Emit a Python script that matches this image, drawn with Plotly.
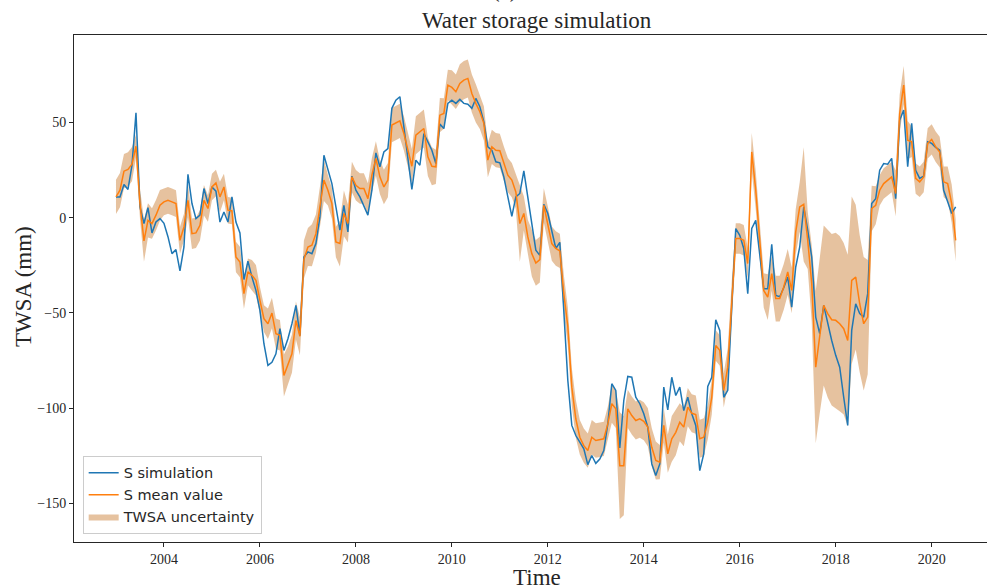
import numpy as np
import plotly.graph_objects as go

# Monthly series, January 2003 to July 2020
start_year = 2003
months_per_year = 12

s_simulation = [
    10.9, 10.9, 17.4, 14.8, 27.5, 55.0, 5.6, -3.1, 5.3, -8.0, -2.3, -0.5,
    -3.0, -10.0, -18.9, -16.8, -28.0, -15.4, 22.8, 7.4, -0.5, 1.3, 15.3, 7.4,
    16.1, 13.9, -2.3, 3.0, -2.3, 10.9, -2.3, -8.0, -32.5, -22.8, -31.2, -38.2,
    -48.7, -66.2, -77.6, -75.9, -71.5, -58.3, -69.7, -63.6, -55.7, -46.1, -61.8, -20.7,
    -18.0, -18.9, -13.6, 0.4, 32.8, 25.8, 17.9, 5.6, -6.6, 6.5, -7.5, 21.8,
    14.4, 10.9, 5.6, 1.3, 14.4, 34.0, 26.7, 34.5, 36.3, 57.4, 61.7, 63.5,
    47.7, 31.9, 14.8, 30.2, 27.5, 44.2, 39.8, 35.4, 28.4, 49.1, 46.8, 60.0,
    61.7, 60.0, 62.1, 60.0, 59.6, 57.4, 62.6, 58.2, 50.3, 37.2, 35.4, 29.3,
    28.8, 21.4, 10.9, 0.7, 10.9, 12.7, 24.6, 10.9, -4.9, -17.1, -19.8, 7.0,
    2.2, -6.6, -16.2, -13.0, -50.0, -85.4, -109.1, -114.4, -117.9, -121.4, -129.7, -124.9,
    -129.0, -126.7, -122.3, -108.3, -87.2, -90.7, -120.9, -96.0, -83.4, -83.8, -94.3, -97.7,
    -103.0, -110.0, -129.3, -135.4, -129.3, -89.0, -100.9, -83.8, -93.4, -89.0, -101.3, -94.3,
    -103.0, -109.1, -132.8, -124.0, -88.6, -83.8, -53.6, -59.2, -94.3, -90.7, -47.0, -5.7,
    -9.3, -16.2, -39.9, -5.7, -1.4, -18.9, -37.3, -37.3, -14.0, -40.8, -41.5, -36.8,
    -31.2, -47.0, -25.9, -15.4, 5.6, -6.6, -20.7, -52.2, -60.9, -46.1, -55.7, -64.5,
    -72.3, -78.5, -94.3, -109.1, -59.2, -45.2, -50.4, -52.2, -39.9, 7.4, 10.0, 24.9,
    28.4, 28.1, 31.1, 10.0, 51.2, 56.5, 26.7, 49.5, 24.9, 20.6, 21.8, 39.8,
    39.0, 36.9, 35.4, 14.4, 8.3, 2.2, 5.6,
]

s_mean = [
    10.9, 14.4, 24.4, 25.3, 28.1, 37.5, 7.4, -12.2, -1.4, -3.1, 1.3, 6.5,
    8.3, 9.1, 8.3, 7.4, -11.9, -4.9, 9.1, -8.4, -8.0, -4.0, 9.1, 4.8,
    16.1, 18.2, 10.9, 16.1, 3.9, 3.5, -20.7, -23.3, -39.9, -28.5, -30.3, -32.9,
    -43.4, -53.0, -55.7, -50.1, -60.9, -61.8, -82.9, -77.6, -71.5, -54.0, -62.3, -22.0,
    -15.4, -14.5, -8.4, 5.6, 19.7, 14.4, 7.4, -12.8, -13.6, 2.2, -3.1, 21.4,
    17.0, 15.3, 15.3, 10.0, 22.3, 31.1, 21.4, 16.1, 19.7, 48.6, 49.5, 50.8,
    44.2, 35.4, 27.0, 43.3, 45.1, 46.8, 31.9, 27.0, 26.7, 53.8, 54.7, 69.6,
    68.4, 66.1, 70.5, 72.2, 73.1, 65.2, 60.0, 55.6, 49.5, 30.2, 37.2, 35.4,
    35.1, 28.4, 22.3, 19.7, 13.5, -3.1, 2.2, -10.1, -18.9, -23.8, -22.0, 6.5,
    -3.1, -13.6, -16.2, -17.5, -40.0, -57.0, -89.0, -105.6, -115.3, -119.7, -122.3, -115.3,
    -117.0, -116.7, -116.1, -108.3, -97.7, -100.4, -130.2, -130.2, -100.4, -103.9, -106.5, -105.6,
    -106.9, -110.0, -120.6, -127.5, -128.4, -109.1, -124.0, -116.1, -112.7, -107.4, -110.0, -99.5,
    -102.7, -103.4, -116.1, -115.3, -107.4, -94.3, -67.1, -69.7, -90.7, -78.5, -43.4, -11.0,
    -11.0, -11.9, -24.1, 34.5, 14.4, -11.9, -38.2, -41.7, -29.4, -42.5, -42.5, -36.4,
    -28.5, -38.2, -7.5, 5.6, 7.0, -11.9, -34.6, -78.5, -62.7, -46.1, -50.4, -53.6,
    -53.9, -55.7, -58.3, -64.5, -32.9, -31.2, -45.2, -55.7, -52.2, 4.8, 6.5, 14.4,
    17.9, 19.7, 21.4, 12.7, 54.7, 69.6, 40.7, 39.8, 20.6, 18.8, 21.4, 39.0,
    41.1, 37.2, 34.5, 18.8, 17.9, 7.4, -11.9,
]

# Half-width of the TWSA uncertainty band around the mean (mm)
twsa_uncertainty = [
    9, 9, 9, 9, 9, 6, 8, 11, 9, 8, 8, 8,
    7, 7, 7, 7, 7, 7, 9, 8, 8, 8, 8, 7,
    7, 7, 8, 7, 7, 7, 8, 8, 8, 7, 8, 8,
    7, 7, 8, 8, 8, 8, 11, 10, 10, 10, 10, 10,
    10, 11, 10, 10, 11, 8, 8, 8, 12, 12, 10, 8,
    8, 8, 8, 8, 9, 9, 9, 9, 9, 9, 9, 9,
    9, 9, 9, 10, 10, 10, 10, 10, 9, 9, 8, 8,
    9, 9, 10, 10, 10, 10, 10, 9, 9, 9, 9, 9,
    9, 9, 9, 9, 9, 20, 9, 9, 12, 12, 12, 9,
    9, 9, 9, 9, 10, 10, 10, 10, 9, 9, 9, 9,
    9, 9, 9, 9, 10, 10, 28, 26, 10, 10, 10, 10,
    10, 10, 10, 10, 9, 9, 10, 12, 12, 10, 10, 10,
    10, 10, 10, 10, 9, 9, 8, 8, 9, 10, 10, 8,
    8, 8, 8, 10, 10, 9, 9, 12, 9, 12, 12, 12,
    12, 12, 12, 13, 30, 15, 20, 40, 40, 42, 44, 45,
    46, 46, 45, 45, 44, 38, 36, 35, 30, 12, 10, 8,
    8, 8, 8, 12, 10, 10, 10, 8, 8, 8, 8, 8,
    8, 8, 8, 8, 9, 10, 11,
]

year_ticks = [2004, 2006, 2008, 2010, 2012, 2014, 2016, 2018, 2020]
twsa_ticks = [-150, -100, -50, 0, 50]

assert len(s_simulation) == len(s_mean) == len(twsa_uncertainty)

time = start_year + np.arange(len(s_mean)) / months_per_year
mean = np.array(s_mean)
unc = np.array(twsa_uncertainty)
upper = mean + unc
lower = mean - unc

serif = "Liberation Serif, Times New Roman, serif"
sans = "DejaVu Sans, sans-serif"
ink = "#262626"

fig = go.Figure()

fig.add_trace(go.Scatter(
    x=np.concatenate([time, time[::-1]]),
    y=np.concatenate([upper, lower[::-1]]),
    fill="toself",
    fillcolor="rgba(205,133,63,0.5)",
    line=dict(width=0, color="rgba(205,133,63,0)"),
    name="TWSA uncertainty",
    legendrank=3,
    hoverinfo="skip",
))
fig.add_trace(go.Scatter(
    x=time, y=s_simulation, mode="lines",
    line=dict(color="#1f77b4", width=1.5),
    name="S simulation", legendrank=1,
))
fig.add_trace(go.Scatter(
    x=time, y=s_mean, mode="lines",
    line=dict(color="#ff7f0e", width=1.5),
    name="S mean value", legendrank=2,
))

axis_common = dict(
    showgrid=False, zeroline=False, showline=True,
    linecolor=ink, linewidth=1,
    ticks="outside", ticklen=4, tickwidth=0.8, tickcolor=ink,
    tickfont=dict(family=serif, size=14, color=ink),
)

fig.update_xaxes(
    range=[2002.125, 2021.153],
    tickvals=year_ticks, ticktext=[str(y) for y in year_ticks],
    mirror=True, **axis_common,
)
fig.update_yaxes(
    range=[-170.3, 95.9],
    tickvals=twsa_ticks,
    **axis_common,
)

fig.update_layout(
    width=987, height=588,
    margin=dict(l=74, r=0, t=35, b=46),
    plot_bgcolor="white", paper_bgcolor="white",
    showlegend=True,
    legend=dict(
        x=0.0095, y=0.016, xanchor="left", yanchor="bottom",
        bgcolor="rgba(255,255,255,0.8)", bordercolor="#cccccc", borderwidth=1,
        font=dict(family=sans, size=14.5, color=ink),
        itemwidth=30, tracegroupgap=0,
    ),
    annotations=[
        dict(text="(a)", xref="paper", yref="paper", x=(505 - 74) / 913, y=1.0,
             yshift=31, xanchor="center", yanchor="bottom", showarrow=False,
             font=dict(family=serif, size=23, color=ink)),
        dict(text="Water storage simulation", xref="paper", yref="paper",
             x=(537 - 74) / 913, y=1.0, xanchor="center", yanchor="bottom",
             showarrow=False, font=dict(family=serif, size=23, color=ink)),
        dict(text="TWSA (mm)", xref="paper", yref="paper", x=(23 - 74) / 913,
             y=(542 - 287) / 507, xanchor="center", yanchor="middle", textangle=-90,
             showarrow=False, font=dict(family=serif, size=23, color=ink)),
        dict(text="Time", xref="paper", yref="paper", x=(537 - 74) / 913,
             y=(542 - 577) / 507, xanchor="center", yanchor="middle",
             borderpad=0, showarrow=False,
             font=dict(family=serif, size=23, color=ink)),
    ],
)

fig.write_html("out.html")
